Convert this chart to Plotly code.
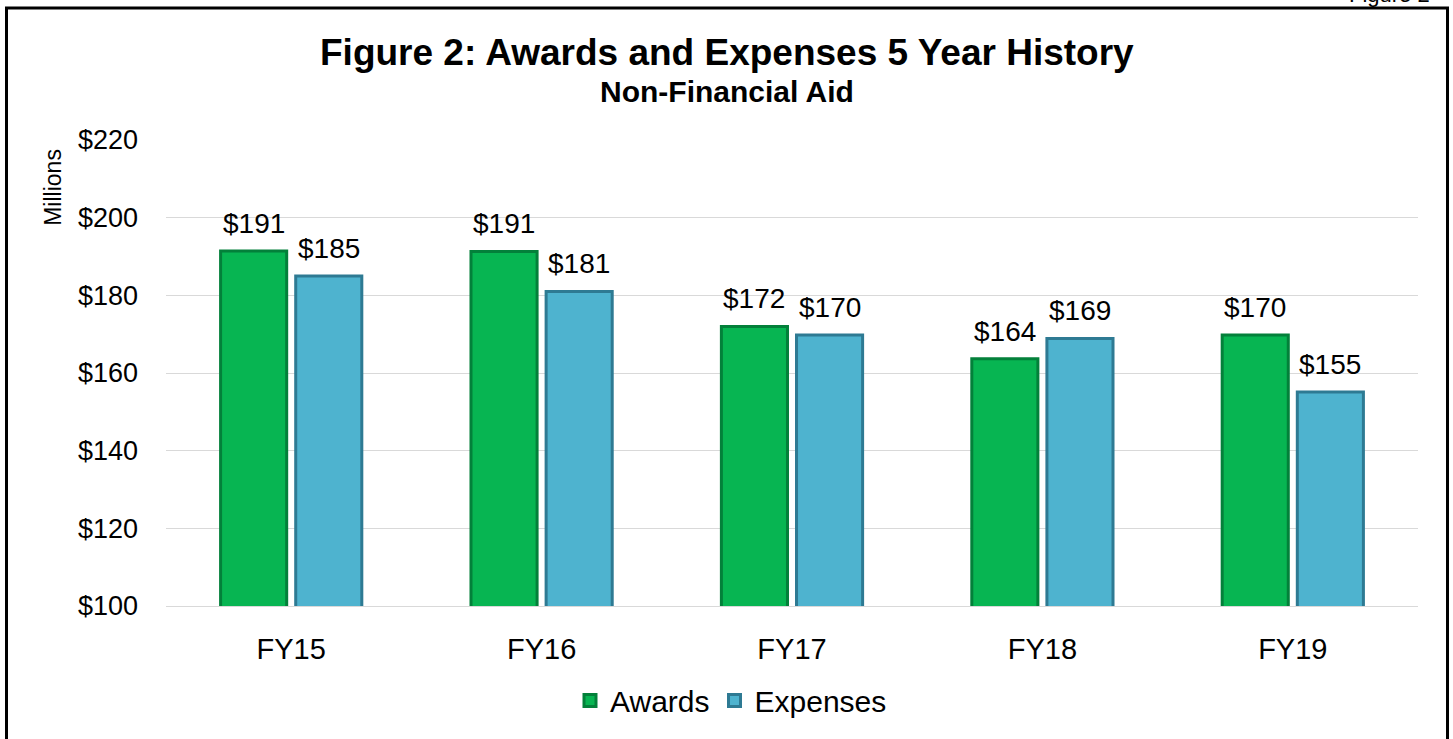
import plotly.graph_objects as go

# chart data
years = ['FY15', 'FY16', 'FY17', 'FY18', 'FY19']
awards = [191.4, 191.3, 172.0, 163.7, 169.8]
expenses = [185.0, 181.0, 169.8, 168.9, 155.1]
y_ticks = [100, 120, 140, 160, 180, 200, 220]
y_tick_labels = ['$100', '$120', '$140', '$160', '$180', '$200', '$220']

W, H = 1453, 739
L, R, T, B = 166, 35, 140, 131
plot_w = W - L - R
plot_h = H - T - B
BARGAP, GROUPGAP = 0.40, 0.12


def px_x(x):
    return (x - L) / plot_w


def px_y(y):
    return (H - B - y) / plot_h


font = 'Liberation Sans, Arial, sans-serif'

fig = go.Figure()

fig.add_trace(go.Bar(
    x=years, y=awards, name='Awards',
    marker=dict(color='#07B552', line=dict(color='#03803A', width=3)),
))
fig.add_trace(go.Bar(
    x=years, y=expenses, name='Expenses',
    marker=dict(color='#4EB3CF', line=dict(color='#2E7A93', width=3)),
))

# value labels sit a bit higher above the bars than plotly's "outside" text
slot = plot_w / len(years) * (1 - BARGAP) / 2
for series, sign in ((awards, -1), (expenses, 1)):
    for yr, val in zip(years, series):
        fig.add_annotation(
            x=yr, y=val, text=f'${val:.0f}', showarrow=False,
            xanchor='center', yanchor='bottom',
            xshift=sign * slot / 2, yshift=10,
            font=dict(size=28, color='#000000')
        )

fig.update_layout(
    width=W, height=H,
    margin=dict(l=L, r=R, t=T, b=B),
    paper_bgcolor='white', plot_bgcolor='white',
    barmode='group', bargap=BARGAP, bargroupgap=GROUPGAP,
    font=dict(family=font, color='#000000'),
    showlegend=True,
    legend=dict(
        orientation='h', x=px_x(731), xanchor='center',
        y=px_y(703), yanchor='middle',
        font=dict(size=30), itemwidth=30, traceorder='normal'
    ),
)

fig.update_yaxes(
    range=[100, 220], tickvals=y_ticks, ticktext=y_tick_labels,
    tickfont=dict(size=27), showgrid=True, gridcolor='#D9D9D9', gridwidth=1,
    zeroline=False, showline=False, ticklabelstandoff=27
)
fig.update_xaxes(
    tickfont=dict(size=29), showline=True, linecolor='#D9D9D9', linewidth=1,
    ticklabelstandoff=17
)

# titles
fig.add_annotation(
    text='<b>Figure 2: Awards and Expenses 5 Year History</b>',
    xref='paper', yref='paper', x=px_x(727), y=px_y(52),
    xanchor='center', yanchor='middle', showarrow=False,
    font=dict(size=37)
)
fig.add_annotation(
    text='<b>Non-Financial Aid</b>',
    xref='paper', yref='paper', x=px_x(727), y=px_y(91),
    xanchor='center', yanchor='middle', showarrow=False,
    font=dict(size=30)
)
fig.add_annotation(
    text='Millions', textangle=-90,
    xref='paper', yref='paper', x=px_x(53), y=px_y(187),
    xanchor='center', yanchor='middle', showarrow=False,
    font=dict(size=23)
)
fig.add_annotation(
    text='Figure 2',
    xref='paper', yref='paper', x=px_x(1432), y=px_y(-6),
    xanchor='right', yanchor='middle', showarrow=False,
    font=dict(size=22)
)

# outer frame
fig.add_shape(
    type='rect', xref='paper', yref='paper',
    x0=px_x(6.5), x1=px_x(1447.5), y0=px_y(760), y1=px_y(7.5),
    line=dict(color='black', width=3), fillcolor='rgba(0,0,0,0)', layer='above'
)

fig.write_html('out.html', config={'displayModeBar': False},
               post_script="document.body.style.margin='0';")
